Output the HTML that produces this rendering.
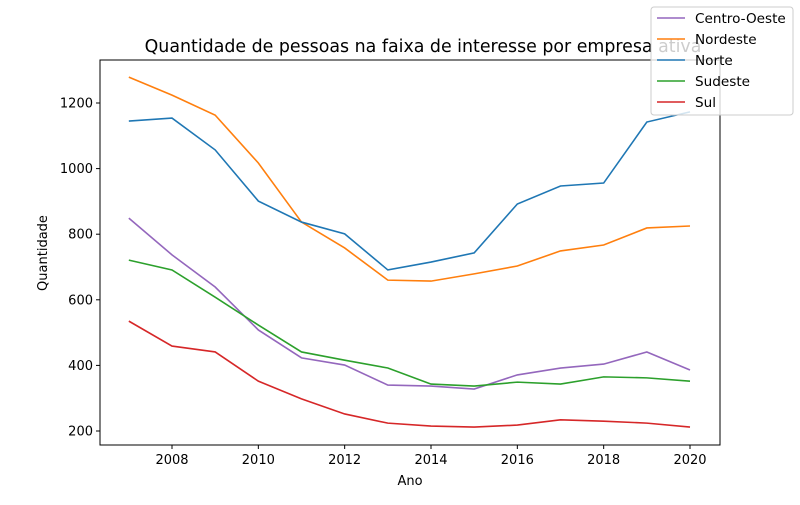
<!DOCTYPE html>
<html><head><meta charset="utf-8"><style>
body{margin:0;background:#fff;font-family:"Liberation Sans","DejaVu Sans",sans-serif}
svg text{font-family:"DejaVu Sans","Liberation Sans",sans-serif}
</style></head><body>
<svg id="chart" width="800" height="500" xmlns="http://www.w3.org/2000/svg"></svg>
<script>
const years=[2007,2008,2009,2010,2011,2012,2013,2014,2015,2016,2017,2018,2019,2020];
const centroOeste=[849,737,639,508,423,401,340,337,328,371,392,404,441,386];
const nordeste=[1279,1224,1163,1017,837,758,660,657,679,703,749,767,819,825];
const norte=[1145,1154,1057,901,837,801,691,715,743,892,947,956,1142,1173];
const sudeste=[721,691,608,523,441,416,392,343,337,349,343,365,362,352];
const sul=[535,459,441,352,298,252,224,215,212,218,234,230,224,212];
const xTicks=[2008,2010,2012,2014,2016,2018,2020];
const yTicks=[200,400,600,800,1000,1200];
const seriesNames=["Centro-Oeste","Nordeste","Norte","Sudeste","Sul"];
const seriesData=[centroOeste,nordeste,norte,sudeste,sul];
const colors=["#9467bd","#ff7f0e","#1f77b4","#2ca02c","#d62728"];

const L=100,R=720,T=60,B=445;
const x=v=>172+(v-2008)*(690-172)/12;
const y=v=>431-(v-200)*(431-103)/1000;
const svg=document.getElementById('chart');
const NS="http://www.w3.org/2000/svg";
function mk(tag,attrs,parent){const e=document.createElementNS(NS,tag);for(const k in attrs)e.setAttribute(k,attrs[k]);(parent||svg).appendChild(e);return e;}

const title=mk('text',{x:423,y:52,'text-anchor':'middle','font-size':17.4,fill:'#000'});
title.textContent='Quantidade de pessoas na faixa de interesse por empresa ativa';



seriesData.forEach((d,i)=>{
  const p=mk('polyline',{points:d.map((v,j)=>x(years[j])+','+y(v)).join(' '),fill:'none',stroke:colors[i],'stroke-width':1.6});
  
  
});

const frame=mk('rect',{x:L,y:T,width:R-L,height:B-T,fill:'none',stroke:'#000','stroke-width':1});



xTicks.forEach(t=>{
  const l=mk('line',{x1:x(t),x2:x(t),y1:B,y2:B+4,stroke:'#000'});
  
  
  const tx=mk('text',{x:x(t),y:B+19,'text-anchor':'middle','font-size':13});
  tx.textContent=t;
  
  
});
yTicks.forEach(t=>{
  const l=mk('line',{x1:L-4,x2:L,y1:y(t),y2:y(t),stroke:'#000'});
  
  
  const tx=mk('text',{x:L-7,y:y(t)+4.5,'text-anchor':'end','font-size':13});
  tx.textContent=t;
  
  
});
const xl=mk('text',{x:410,y:485,'text-anchor':'middle','font-size':13});
xl.textContent='Ano';


const yl=mk('text',{x:47,y:253,'text-anchor':'middle','font-size':13,transform:'rotate(-90 47 253)'});
yl.textContent='Quantidade';



const lg=mk('g',{});


mk('rect',{x:651,y:7,width:142,height:108,rx:3,fill:'#fff','fill-opacity':0.8,stroke:'#ccc'},lg);
seriesNames.forEach((n,i)=>{
  const yy=18+i*21;
  const e=mk('g',{},lg);
  
  
  mk('line',{x1:657,x2:685,y1:yy,y2:yy,stroke:colors[i],'stroke-width':1.6},e);
  const t=mk('text',{x:695,y:yy+5,'font-size':13.6},e);
  t.textContent=n;
});
</script>
</body></html>
